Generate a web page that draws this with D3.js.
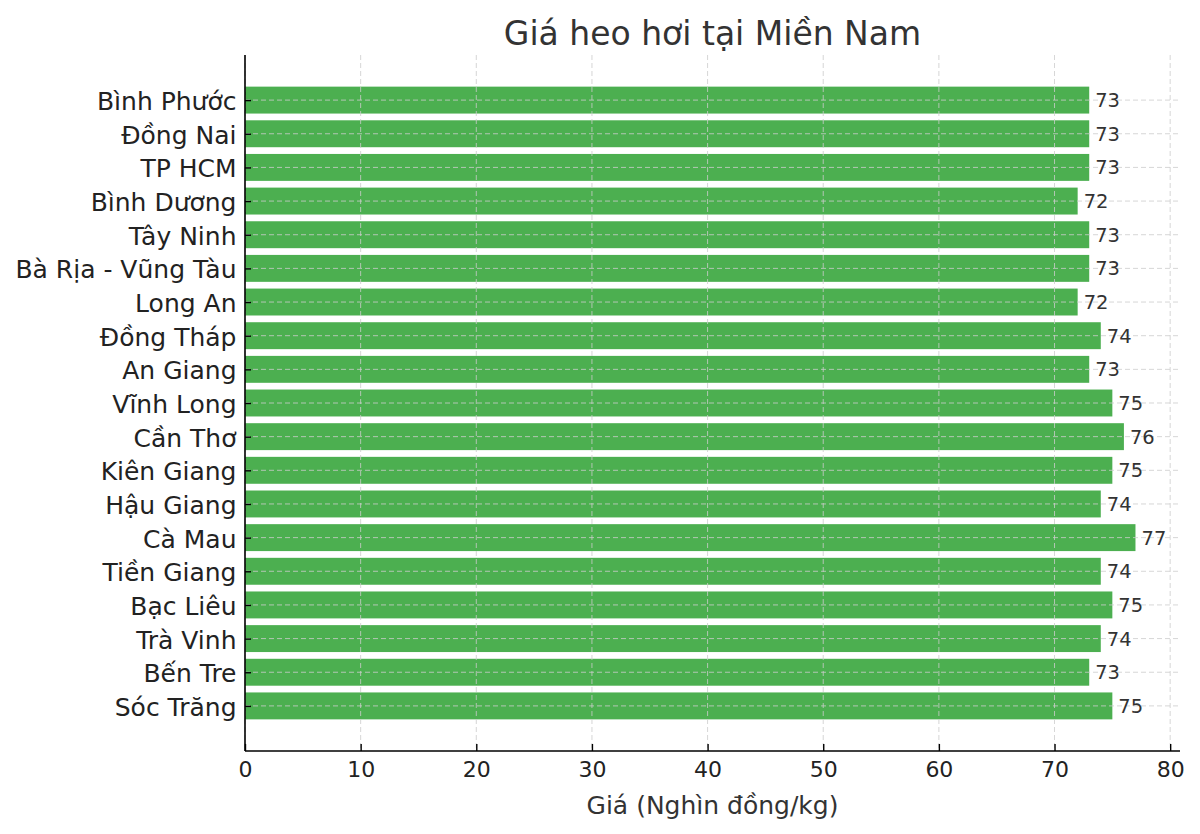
<!DOCTYPE html>
<html><head><meta charset="utf-8">
<script src="https://cdn.jsdelivr.net/npm/d3@7/dist/d3.min.js"></script>
<style>body{margin:0;background:#fff}svg{display:block}</style>
</head><body>
<script>
const provinces = ["Bình Phước","Đồng Nai","TP HCM","Bình Dương","Tây Ninh","Bà Rịa - Vũng Tàu","Long An","Đồng Tháp","An Giang","Vĩnh Long","Cần Thơ","Kiên Giang","Hậu Giang","Cà Mau","Tiền Giang","Bạc Liêu","Trà Vinh","Bến Tre","Sóc Trăng"];
const prices = [73,73,73,72,73,73,72,74,73,75,76,75,74,77,74,75,74,73,75];
const xTicks = [0,10,20,30,40,50,60,70,80];
const title = "Giá heo hơi tại Miền Nam";
const xLabel = "Giá (Nghìn đồng/kg)";

const W = 1200, H = 834;
const m = {left:245, right:20, top:55, bottom:83};
const font = "'DejaVu Sans', sans-serif";
const svg = d3.select("body").append("svg").attr("width",W).attr("height",H).style("font-family",font);

const n = provinces.length;
const x = d3.scaleLinear().domain([0, d3.max(prices)*1.05]).range([m.left, W-m.right]);
const pad = 0.05*(n-1+0.8);
const y = d3.scaleLinear().domain([-0.4-pad, n-1+0.4+pad]).range([m.top, H-m.bottom]);
const bh = y(0.8)-y(0);

// bars
svg.append("g").selectAll("rect").data(prices).join("rect")
  .attr("x", x(0)).attr("y",(d,i)=>y(i-0.4))
  .attr("width", d=>x(d)-x(0)).attr("height", bh)
  .attr("fill","#4CAF50");

// grid on top
const grid = svg.append("g").attr("stroke","#cccccc").attr("stroke-opacity",0.8)
  .attr("stroke-width",1).attr("stroke-dasharray","5,3");
grid.selectAll("line.v").data(xTicks).join("line").attr("class","v")
  .attr("x1",d=>x(d)).attr("x2",d=>x(d)).attr("y1",m.top).attr("y2",H-m.bottom);
grid.selectAll("line.h").data(provinces).join("line").attr("class","h")
  .attr("x1",m.left).attr("x2",W-m.right).attr("y1",(d,i)=>y(i)).attr("y2",(d,i)=>y(i));

// axes (ticks point inward)
const xAxis = svg.append("g").attr("transform",`translate(0,${H-m.bottom})`)
  .call(d3.axisBottom(x).tickValues(xTicks).tickSize(-7).tickPadding(0).tickSizeOuter(0));
const yAxis = svg.append("g").attr("transform",`translate(${m.left},0)`)
  .call(d3.axisLeft(y).tickValues(d3.range(n)).tickFormat(i=>provinces[i]).tickSize(-6).tickPadding(0).tickSizeOuter(0));
[xAxis,yAxis].forEach(a=>{
  a.select(".domain").attr("stroke","#000").attr("stroke-width",1.6);
  a.selectAll(".tick line").attr("stroke","#000").attr("stroke-width",1.4);
  a.selectAll("text").attr("font-family",font).attr("fill","#222");
});
xAxis.selectAll("text").attr("font-size",22).attr("y",10).attr("dy","0.71em");
yAxis.selectAll("text").attr("font-size",25).attr("x",-8.5).attr("dy","0.38em");
xAxis.select(".domain").attr("d",`M${m.left},0H${W-m.right}`);
yAxis.select(".domain").attr("d",`M0,${m.top}V${H-m.bottom}`);

// value labels
svg.append("g").selectAll("text").data(prices).join("text")
  .attr("x",d=>x(d)+6).attr("y",(d,i)=>y(i)).attr("dy","0.36em")
  .attr("font-size",19.5).attr("fill","#333").text(d=>d);

// title & axis label
svg.append("text").attr("x",(m.left+W-m.right)/2).attr("y",45).attr("text-anchor","middle")
  .attr("font-size",33).attr("fill","#333").text(title);
svg.append("text").attr("x",(m.left+W-m.right)/2).attr("y",814).attr("text-anchor","middle")
  .attr("font-size",25).attr("fill","#333").text(xLabel);
</script>
</body></html>
